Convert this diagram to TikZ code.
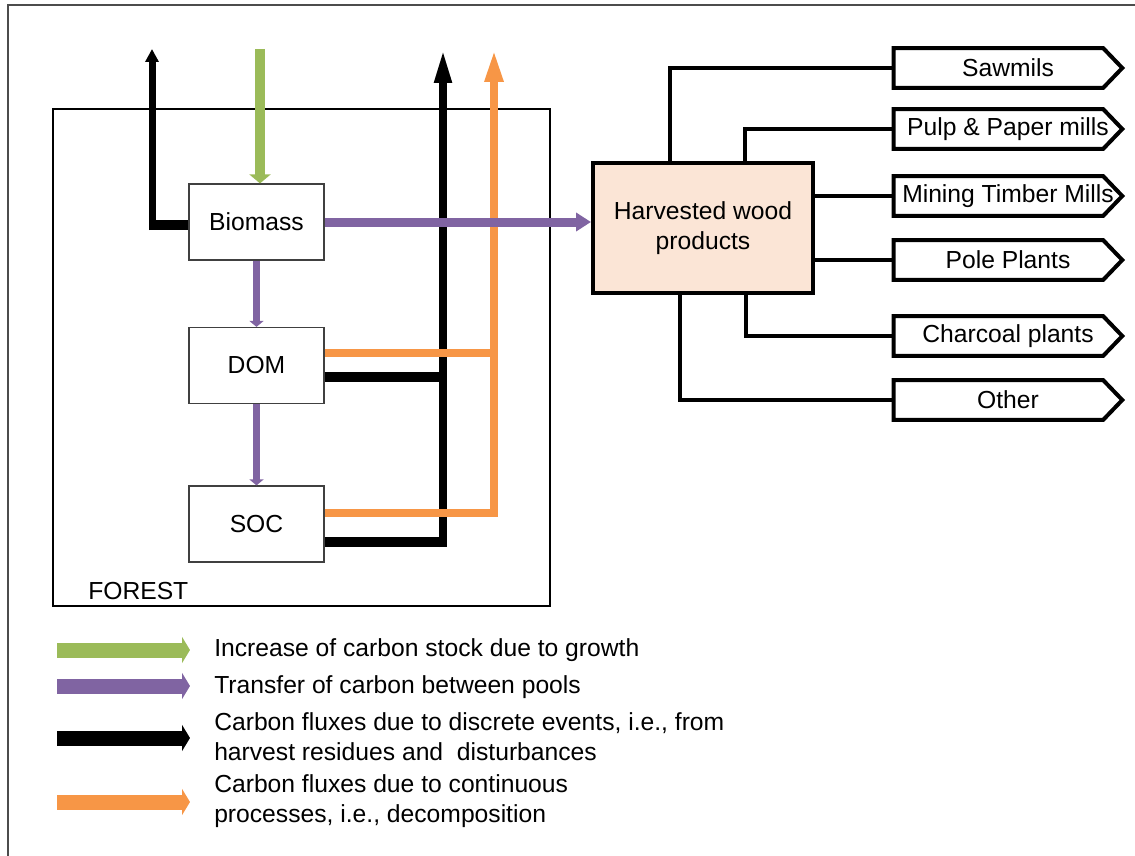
\documentclass[tikz,border=0pt]{standalone}
\usepackage{fontspec}
\setmainfont{Liberation Sans}
\usetikzlibrary{arrows.meta}
\definecolor{cgreen}{HTML}{9BBB59}
\definecolor{cpurple}{HTML}{8064A2}
\definecolor{corange}{HTML}{F79646}
\definecolor{cpeach}{HTML}{FBE5D6}
\begin{document}
\begin{tikzpicture}[x=0.75pt,y=-0.75pt,
  every node/.style={font=\fontsize{18.5}{22.5}\selectfont, inner sep=0pt},
  pool/.style={draw=black!75, line width=0.9pt, minimum width=101.25pt, minimum height=57pt},
  hwpbox/.style={draw=black, line width=3pt, fill=cpeach, minimum width=165pt, minimum height=97.5pt, align=center},
  outbox/.style={minimum width=171pt, minimum height=29.25pt},
  outline/.style={draw=black, line width=3pt, line join=miter},
  conn/.style={draw=black, line width=2.6pt},
  bkh/.style={draw=black, line width=7.5pt},
  bkv/.style={draw=black, line width=5.6pt},
  orl/.style={draw=corange, line width=6pt},
  grl/.style={draw=cgreen, line width=7.5pt},
  pul/.style={draw=cpurple, line width=5.25pt},
  legtxt/.style={anchor=west, align=left}
]
\useasboundingbox (0,0) rectangle (1135,856);
\draw[gray!60!black, line width=1.2pt] (1135,5) -- (8,5) -- (8,856);

% forest
\node[draw, line width=0.8pt, minimum width=372.75pt, minimum height=372.75pt] (forest) at (301.5,357.5) {};
\node[anchor=west] (forestlbl) at (88,591) {FOREST};

% pools
\node[pool] (bio) at (256.5,222) {Biomass};
\node[pool] (dom) at (256.5,365.5) {DOM};
\node[pool] (soc) at (256.5,524) {SOC};
\node[hwpbox] (hwp) at (703,228) {Harvested wood\\products};

% output boxes
\node[outbox] (saw) at (1008,68) {Sawmils};
\node[outbox] (pulp) at (1008,129) {Pulp \& Paper mills};
\node[outbox] (mine) at (1008,196) {Mining Timber Mills};
\node[outbox] (pole) at (1008,260) {Pole Plants};
\node[outbox] (char) at (1008,336) {Charcoal plants};
\node[outbox] (oth) at (1008,400) {Other};
\foreach \n in {saw,pulp,mine,pole,char,oth}
  \draw[outline] (\n.north west) -- ([xshift=-14.25pt]\n.north east) -- (\n.east)
     -- ([xshift=-14.25pt]\n.south east) -- (\n.south west) -- cycle;

% connectors to output boxes
\coordinate (xs) at (670,0);
\coordinate (xp) at (745,0);
\coordinate (xc) at (746,0);
\coordinate (xo) at (680,0);
\draw[conn] (hwp.north -| xs) |- (saw.west);
\draw[conn] (hwp.north -| xp) |- (pulp.west);
\draw[conn] (hwp.east |- mine.west) -- (mine.west);
\draw[conn] (hwp.east |- pole.west) -- (pole.west);
\draw[conn] (hwp.south -| xc) |- (char.west);
\draw[conn] (hwp.south -| xo) |- (oth.west);

% flux coordinates
\coordinate (tl) at (152,49);
\coordinate (cl) at (152,225);
\coordinate (tg) at (260,49);
\coordinate (tb) at (443,49);
\coordinate (jb1) at (443,377);
\coordinate (jb2) at (443,542);
\coordinate (topo) at (494,49);
\coordinate (jo1) at (494,352.5);
\coordinate (jo2) at (494,512.5);

% black fluxes
\draw[bkh] (bio.west |- cl) -- ([xshift=-2.6pt]cl);
\draw[bkv, line width=5.25pt, -{Triangle[length=9.75pt,width=9.75pt]}] ([yshift=-3.75pt]cl) -- (tl);
\draw[bkh] (dom.east |- jb1) -- ([xshift=2.8pt]jb1);
\draw[bkh] (soc.east |- jb2) -- ([xshift=2.8pt]jb2);
\draw[bkv, -{Triangle[length=25.5pt,width=12pt]}] ([yshift=-3.75pt]jb2) -- (tb);

% orange fluxes
\draw[orl] (dom.east |- jo1) -- ([xshift=3pt]jo1);
\draw[orl] (soc.east |- jo2) -- ([xshift=3pt]jo2);
\draw[orl, -{Triangle[length=24.75pt,width=12.75pt]}] ([yshift=-3pt]jo2) -- (topo);

% green
\draw[grl, -{Triangle[length=6.75pt,width=15.75pt]}] (tg) -- (tg |- bio.north);

% purple
\draw[pul, -{Triangle[length=4.5pt,width=10.5pt]}] (bio.south) -- (dom.north);
\draw[pul, -{Triangle[length=4.5pt,width=10.5pt]}] (dom.south) -- (soc.north);
\draw[pul, line width=6.75pt, -{Triangle[length=11.25pt,width=13.5pt]}] (bio.east) -- (bio.east -| hwp.west);

% legend
\coordinate (l1a) at (57,650); \coordinate (l1b) at (190,650);
\coordinate (l2a) at (57,686); \coordinate (l2b) at (190,686);
\coordinate (l3a) at (57,738); \coordinate (l3b) at (190,738);
\coordinate (l4a) at (57,802); \coordinate (l4b) at (190,802);
\tikzset{legarrow/.style={line width=11.25pt, -{Triangle[length=6pt,width=19.5pt]}}}
\draw[legarrow, cgreen] (l1a) -- (l1b);
\draw[legarrow, cpurple] (l2a) -- (l2b);
\draw[legarrow, black] (l3a) -- (l3b);
\draw[legarrow, corange] (l4a) -- (l4b);
\node[legtxt] (t1) at (214,650) {Increase of carbon stock due to growth};
\node[legtxt] (t2) at (214,687) {Transfer of carbon between pools};
\node[legtxt] (t3) at (214,737) {Carbon fluxes due to discrete events, i.e., from\\harvest residues and\ \ disturbances};
\node[legtxt] (t4) at (214,801.5) {Carbon fluxes due to continuous\\processes, i.e., decomposition};
\end{tikzpicture}
\end{document}
